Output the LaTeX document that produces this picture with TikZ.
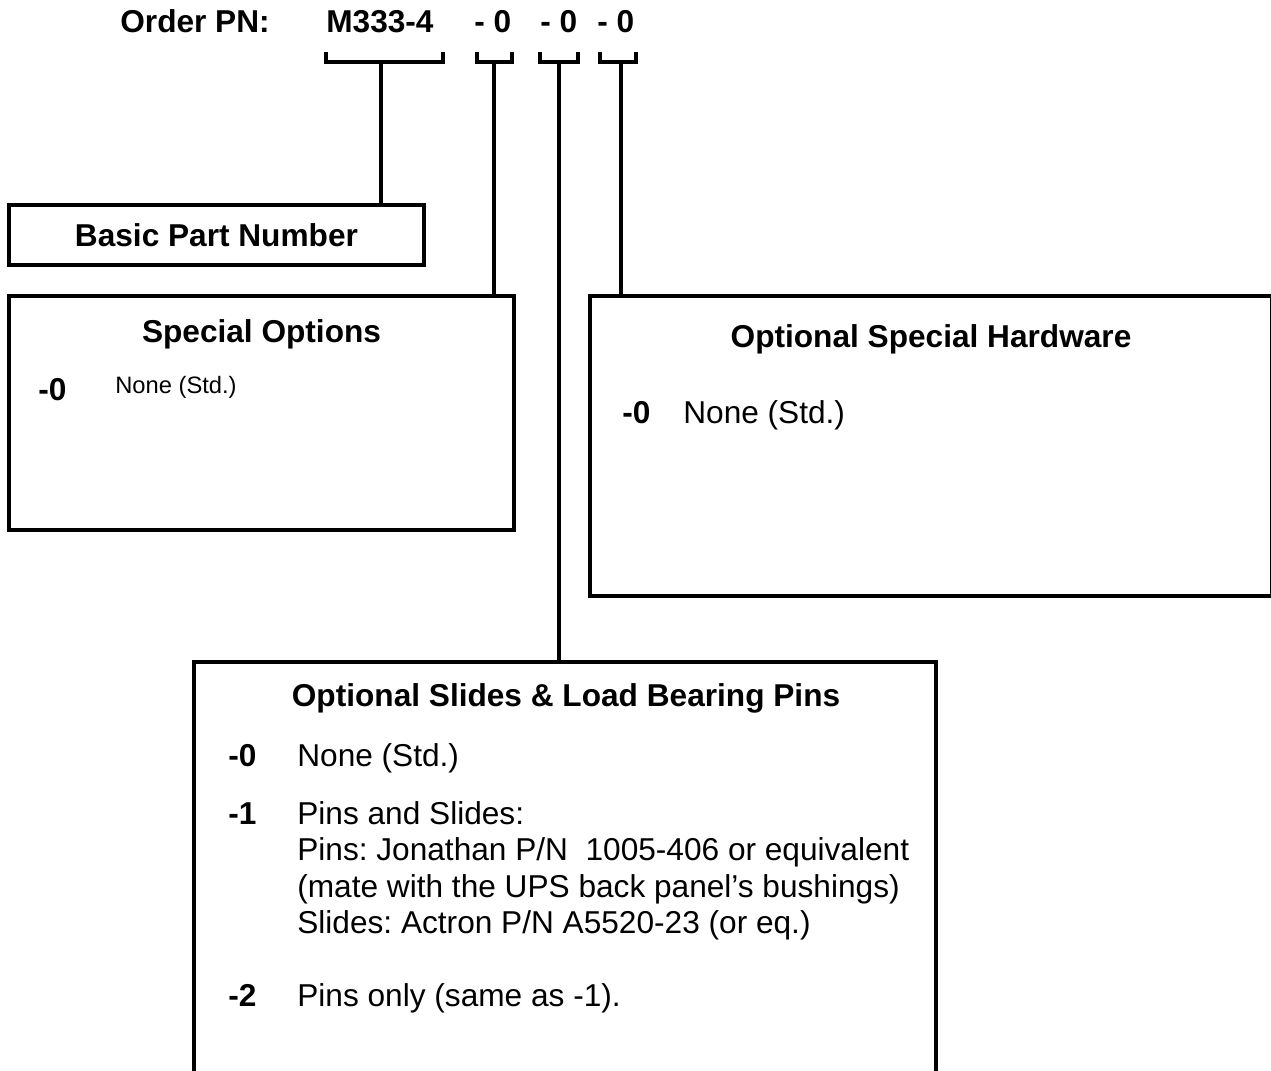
\documentclass[tikz,border=0pt]{standalone}
\usepackage{fontspec}
\setmainfont{Liberation Sans}
\usetikzlibrary{positioning}
\frenchspacing
\newcommand\bigfont{\fontsize{18}{21}\selectfont}
\tikzset{
	wire/.style={line width=1.9pt},
	box/.style={draw, line width=1.9pt, inner sep=0pt, outer sep=0pt, anchor=north west},
	hdr/.style={font=\bigfont\bfseries, inner sep=0pt, anchor=base},
	code/.style={font=\bigfont\bfseries, inner sep=0pt, anchor=base west},
	item/.style={font=\bigfont, inner sep=0pt, anchor=base west},
}
\begin{document}
\begin{tikzpicture}[x=0.02cm, y=-0.02cm]
		\useasboundingbox (0,0) rectangle (1271,1071);
		\clip (0,0) rectangle (1271,1071);
		% order number
		\node[code] (order) at (120,33) {Order PN:};
		\node[code] (base) at (326,33) {M333-4};
		\node[code] (opt1) at (474,33) {- 0};
		\node[code] (opt2) at (540,33) {- 0};
		\node[code] (opt3) at (597,33) {- 0};
		\foreach \l/\r/\m/\n in {326/443/381/b1, 477/512/494/b2, 540/578/559/b3, 600/636/621/b4}{
			\draw[wire] (\l,52) -- (\l,62) -- (\r,62) -- (\r,52);
			\coordinate (\n) at (\m,62);
		}
		% boxes
		\node[box, minimum width=8.3cm, minimum height=1.2cm, font=\bigfont\bfseries]
			(bpn) at (9,205) {Basic Part Number};
		\node[box, minimum width=10.1cm, minimum height=4.68cm] (spo) at (9,296) {};
		\node[box, minimum width=13.64cm, minimum height=6cm] (osh) at (590,296) {};
		\node[box, minimum width=14.84cm, minimum height=9cm] (osl) at (194,662) {};
		% stems
		\draw[wire] (b1) -- (b1 |- bpn.north);
		\draw[wire] (b2) -- (b2 |- spo.north);
		\draw[wire] (b3) -- (b3 |- osl.north);
		\draw[wire] (b4) -- (b4 |- osh.north);
		% special options
		\node[hdr] (spoT) at (261.5,342) {Special Options};
		\node[code] (spo0) at (38,400) {-0};
		\node[item, font=\fontsize{13.5}{16}\selectfont] (spo0t) at (115,393) {None (Std.)};
		% special hardware
		\node[hdr] (oshT) at (931,347) {Optional Special Hardware};
		\node[code] (osh0) at (622,423) {-0};
		\node[item] (osh0t) at (683,423) {None (Std.)};
		% slides and pins
		\node[hdr] (oslT) at (566,706) {Optional Slides \& Load Bearing Pins};
		\node[code] (osl0) at (228,766) {-0};
		\node[item] (osl0t) at (297,766) {None (Std.)};
		\node[code] (osl1) at (228,824) {-1};
		\node[item] (osl1a) at (297,824) {Pins and Slides:};
		\node[item] (osl1b) at (297,860) {Pins: Jonathan P/N\ \ 1005-406 or equivalent};
		\node[item] (osl1c) at (297,897) {(mate with the UPS back panel’s bushings)};
		\node[item] (osl1d) at (297,933) {Slides: Actron P/N A5520-23 (or eq.)};
		\node[code] (osl2) at (228,1006) {-2};
		\node[item] (osl2t) at (297,1006) {Pins only (same as -1).};
	\end{tikzpicture}
\end{document}
